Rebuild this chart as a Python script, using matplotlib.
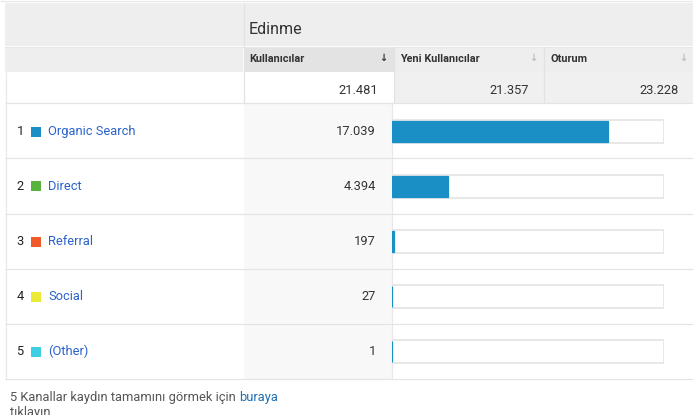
import matplotlib as mpl
mpl.use('Agg')
import matplotlib.pyplot as plt
from matplotlib.patches import Rectangle

# data
group_title = 'Edinme'
columns = ['Kullanıcılar', 'Yeni Kullanıcılar', 'Oturum']
totals = ['21.481', '21.357', '23.228']
total_users = 21481
channels = ['Organic Search', 'Direct', 'Referral', 'Social', '(Other)']
users = [17039, 4394, 197, 27, 1]
users_text = ['17.039', '4.394', '197', '27', '1']
channel_colors = ['#1a8fc6', '#57b33e', '#f05a28', '#ebeb35', '#3ccfe6']
footer = '5 Kanallar kaydın tamamını görmek için '
footer_link = 'buraya'
footer_2 = 'tıklayın'

W, H = 693, 415
fam = ['Roboto', 'DejaVu Sans']
link_blue = '#2a62c9'
bar_blue = '#1a8fc6'
line_col = '#e4e4e4'

fig = plt.figure(figsize=(W/100, H/100), dpi=100)
ax = fig.add_axes([0, 0, 1, 1])
ax.set_xlim(0, W)
ax.set_ylim(H, 0)
ax.axis('off')

def box(x0, y0, x1, y1, fc):
    ax.add_patch(Rectangle((x0, y0), x1-x0, y1-y0, fc=fc, ec='none', zorder=1))

def hline(y, x0=5, x1=W, c=line_col, lw=1.2):
    ax.plot([x0, x1], [y, y], color=c, lw=lw*0.72, zorder=3, solid_capstyle='butt')

def vline(x, y0, y1, c=line_col, lw=1.2):
    ax.plot([x, x], [y0, y1], color=c, lw=lw*0.72, zorder=3, solid_capstyle='butt')

# header
hline(1.2, 0, W, c='#e8e8e8')
box(5, 3, W, 46.5, '#eeeeee')
box(5, 47, 243, 72, '#eeeeee')
box(243.5, 47, 394, 72, '#e3e3e3')
box(395, 47, W, 72, '#eeeeee')
hline(46.7, 5, W, c='#e6e6e6')
vline(243.5, 3, 103.5, c='#e2e2e2')
vline(394.3, 47, 103.5, c='#e2e2e2')
vline(544.3, 47, 103.5, c='#e2e2e2')

ax.text(249, 30, group_title, fontsize=11.5, family=fam, color='#333333',
        va='center', ha='left', zorder=5)

col_x = [249, 400.5, 550.5]
arrow_x = [383, 533, 683]
arrow_c = ['#333333', '#bbbbbb', '#bbbbbb']
for i in range(3):
    ax.text(col_x[i], 58.5, columns[i], fontsize=7.8, family=fam,
            fontweight='bold', color='#333333', va='center', ha='left', zorder=5)
    ax.text(arrow_x[i], 58, '↓', fontsize=7, family=fam, fontweight='bold',
            color=arrow_c[i], va='center', ha='center', zorder=5)

# totals row
box(395, 72.5, W, 103.5, '#f0f0f0')
total_x = [378, 528.5, 678.5]
for i in range(3):
    ax.text(total_x[i], 91, totals[i], fontsize=9.3, family=fam, color='#333333',
            va='center', ha='right', zorder=5)

# data rows
row_h = 55
row_top = 103.5
box(243.5, row_top, 391.5, row_top + row_h*len(channels), '#f8f8f8')
vline(391.7, row_top, row_top + row_h*len(channels), c='#e8e8e8')
vline(5.5, 72, row_top + row_h*len(channels), c='#e8e8e8')
for i in range(len(channels) + 1):
    hline(row_top + row_h*i)

for i, name in enumerate(channels):
    yc = row_top + row_h*i + 27.5
    ax.text(16.5, yc, str(i+1), fontsize=9.3, family=fam, color='#222222',
            va='center', ha='left', zorder=5)
    ax.add_patch(Rectangle((31, yc-4.5), 10, 10, fc=channel_colors[i], ec='none', zorder=5))
    ax.text(48.3, yc, name, fontsize=9.3, family=fam, color=link_blue,
            va='center', ha='left', zorder=5)
    ax.text(376, yc, users_text[i], fontsize=9.3, family=fam, color='#333333',
            va='center', ha='right', zorder=5)

# bar column
bx0, bx1 = 392, 664
bax = fig.add_axes([bx0/W, 1 - (row_top + row_h*len(channels))/H,
                    (bx1 - bx0)/W, row_h*len(channels)/H])
bax.set_xlim(0, total_users)
bax.set_ylim(len(channels) - 0.5, -0.5)
bax.axis('off')
rows = list(range(len(channels)))
bax.barh(rows, [total_users]*len(channels), height=23/55, left=0,
         color='white', edgecolor='#e6e6e6', linewidth=1.3)
bax.barh(rows, users, height=21/55, left=0, color=bar_blue,
         edgecolor=bar_blue, linewidth=0.9)

# footer
t = ax.text(10, 397, footer, fontsize=9.3, family=fam, color='#555555',
            va='center', ha='left', zorder=5)
ax.annotate(footer_link, xy=(1, 0.5), xycoords=t, fontsize=9.3, family=fam,
            color='#1f6fb5', va='center', ha='left', zorder=5)
ax.text(10, 412.5, footer_2, fontsize=9.3, family=fam, color='#555555',
        va='center', ha='left', zorder=5)

fig.savefig('out.png', dpi=100)
plt.close('all')
